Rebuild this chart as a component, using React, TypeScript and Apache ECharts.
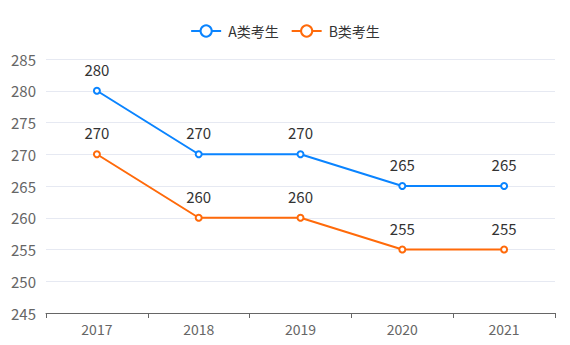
import React, { useEffect, useRef } from "react";
import * as echarts from "echarts";

const categories = ["2017", "2018", "2019", "2020", "2021"];
const seriesA = [280, 270, 270, 265, 265];
const seriesB = [270, 260, 260, 255, 255];
const seriesNames = ["A类考生", "B类考生"];

export default function App() {
  const ref = useRef<HTMLDivElement>(null);
  useEffect(() => {
    const chart = echarts.init(ref.current!, null, { renderer: "svg" });
    const font = "'Noto Sans CJK SC', 'Noto Sans', sans-serif";
    const mk = (name: string, data: number[], color: string) => ({
      name,
      type: "line",
      data,
      symbol: "circle",
      symbolSize: 6,
      showAllSymbol: true,
      itemStyle: { color: "#fff", borderColor: color, borderWidth: 2 },
      lineStyle: { color, width: 2 },
      label: {
        show: true,
        position: "top",
        distance: 10,
        color: "#333",
        fontSize: 15,
        fontFamily: font,
      },
    });
    chart.setOption({
      animation: false,
      textStyle: { fontFamily: font },
      color: ["#0a84ff", "#ff6a0a"],
      legend: {
        top: 19,
        left: "center",
        itemWidth: 30,
        itemHeight: 14,
        itemGap: 12,
        textStyle: { color: "#333", fontSize: 14, fontFamily: font, padding: [0, 0, 0, 2] },
        data: seriesNames,
      },
      grid: { left: 46, right: 15, top: 59, bottom: 32, containLabel: false },
      xAxis: {
        type: "category",
        data: categories,
        boundaryGap: true,
        axisLine: { lineStyle: { color: "#666" } },
        axisTick: { show: true, lineStyle: { color: "#666" } },
        axisLabel: { color: "#666", fontSize: 14, margin: 9, fontFamily: font },
      },
      yAxis: {
        type: "value",
        min: 245,
        max: 285,
        interval: 5,
        axisLine: { show: false },
        axisTick: { show: false },
        axisLabel: { color: "#666", fontSize: 15, margin: 10, fontFamily: font },
        splitLine: { lineStyle: { color: "#e6e9f2" } },
      },
      series: [mk(seriesNames[0], seriesA, "#0a84ff"), mk(seriesNames[1], seriesB, "#ff6a0a")],
    });
    return () => chart.dispose();
  }, []);
  return (
    <div
      ref={ref}
      style={{ position: "absolute", left: 0, top: 0, width: 570, height: 345 }}
    />
  );
}
